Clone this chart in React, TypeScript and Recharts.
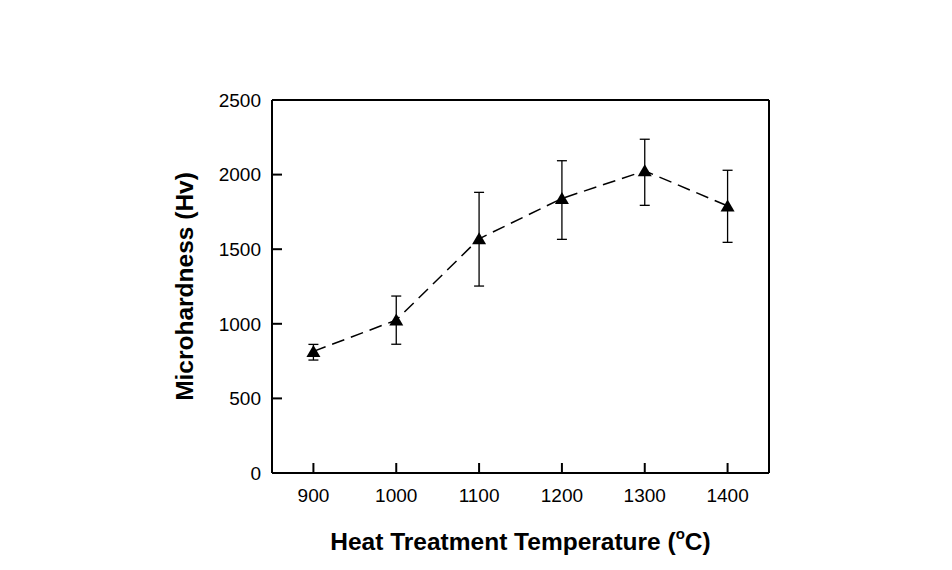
import { ErrorBar, Label, Line, LineChart, ReferenceLine, XAxis, YAxis } from "recharts";

const temps = [900, 1000, 1100, 1200, 1300, 1400];
const hardness = [815, 1025, 1570, 1840, 2025, 1790];
const errBelow = [58, 162, 317, 274, 231, 244];
const errAbove = [47, 161, 311, 253, 212, 239];
const xTicks = [900, 1000, 1100, 1200, 1300, 1400];
const yTicks = [0, 500, 1000, 1500, 2000, 2500];

const data = temps.map((t, i) => ({
  temp: t,
  hv: hardness[i],
  err: [errBelow[i], errAbove[i]],
}));

const FONT = '"Liberation Sans", Arial, sans-serif';

function Triangle(props: any) {
  const { cx, cy } = props;
  if (cx == null || cy == null) return null;
  return (
    <path
      d={`M${cx},${cy - 6.5} L${cx + 7},${cy + 5.5} L${cx - 7},${cy + 5.5} Z`}
      fill="#000"
    />
  );
}

function XTitle({ viewBox }: any) {
  const cx = viewBox.x + viewBox.width / 2;
  return (
    <text x={cx} y={550} textAnchor="middle" fontFamily={FONT} fontWeight="bold" fontSize={24.5} fill="#000">
      Heat Treatment Temperature (
      <tspan fontSize={15} dy={-11}>o</tspan>
      <tspan dy={11}>C)</tspan>
    </text>
  );
}

function YTitle({ viewBox }: any) {
  const cy = viewBox.y + viewBox.height / 2;
  const x = 193;
  return (
    <text
      x={x}
      y={cy}
      transform={`rotate(-90, ${x}, ${cy})`}
      textAnchor="middle"
      fontFamily={FONT}
      fontWeight="bold"
      fontSize={24.5}
      fill="#000"
    >
      Microhardness (Hv)
    </text>
  );
}

export default function App() {
  return (
    <div style={{ position: "absolute", left: 0, top: 0, background: "#fff" }}>
      <LineChart
        width={952}
        height={570}
        data={data}
        margin={{ top: 100, right: 183, bottom: 37, left: 212 }}
      >
        <XAxis
          dataKey="temp"
          type="number"
          domain={[850, 1450]}
          ticks={xTicks}
          allowDataOverflow
          height={60}
          axisLine={{ stroke: "#000", strokeWidth: 2 }}
          tickLine={{ stroke: "#000", strokeWidth: 2 }}
          tickSize={-10}
          tickMargin={26}
          tick={{ fill: "#000", fontSize: 19, fontFamily: FONT }}
        >
          <Label content={<XTitle />} />
        </XAxis>
        <YAxis
          type="number"
          domain={[0, 2500]}
          ticks={yTicks}
          allowDataOverflow
          width={60}
          axisLine={{ stroke: "#000", strokeWidth: 2 }}
          tickLine={{ stroke: "#000", strokeWidth: 2 }}
          tickSize={-10}
          tickMargin={21}
          tick={{ fill: "#000", fontSize: 19, fontFamily: FONT }}
        >
          <Label content={<YTitle />} />
        </YAxis>
        <ReferenceLine y={2500} stroke="#000" strokeWidth={2} />
        <ReferenceLine x={1450} stroke="#000" strokeWidth={2} />
        <Line
          dataKey="hv"
          type="linear"
          stroke="#000"
          strokeWidth={1.5}
          strokeDasharray="13 7"
          dot={<Triangle />}
          activeDot={false}
          isAnimationActive={false}
        >
          <ErrorBar dataKey="err" direction="y" width={5} stroke="#000" strokeWidth={1.3} />
        </Line>
      </LineChart>
    </div>
  );
}
